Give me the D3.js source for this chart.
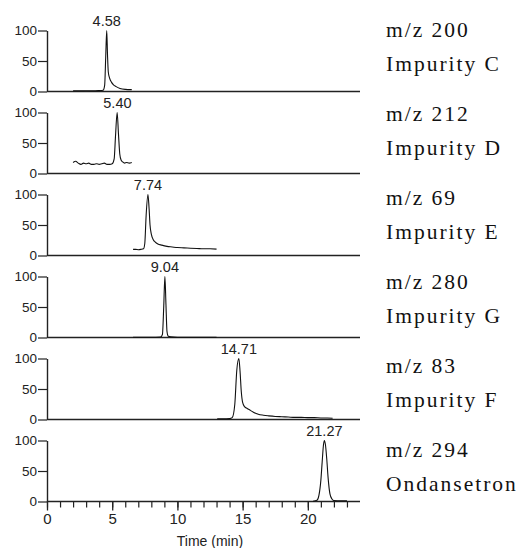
<!DOCTYPE html>
<html>
<head>
<meta charset="utf-8">
<script src="https://cdn.jsdelivr.net/npm/d3@7"></script>
<style>
  html, body { margin: 0; padding: 0; background: #fff; }
  svg { display: block; }
</style>
</head>
<body>
<svg id="chart" width="525" height="548"></svg>
<script>
// ---- data ----
const massLabels = ["m/z 200", "m/z 212", "m/z 69", "m/z 280", "m/z 83", "m/z 294"];
const compoundLabels = ["Impurity C", "Impurity D", "Impurity E", "Impurity G", "Impurity F", "Ondansetron"];
const peakTimes = [4.58, 5.40, 7.74, 9.04, 14.71, 21.27];
const peakLabels = ["4.58", "5.40", "7.74", "9.04", "14.71", "21.27"];
const yTickValues = [0, 50, 100];
const xMajorTicks = [0, 5, 10, 15, 20];
const xMinorTicks = [0,1,2,3,4,5,6,7,8,9,10,11,12,13,14,15,16,17,18,19,20,21,22,23];
const xAxisTitle = "Time (min)";

// chromatogram traces: [time (min), relative intensity (%)]
const traceC = [[2.0,1],[2.5,1],[3.0,1.2],[3.5,1],[4.0,1.5],[4.3,2],[4.42,10],[4.5,55],[4.58,100],[4.64,60],[4.7,32],[4.8,22],[4.95,15],[5.1,11],[5.3,8],[5.6,5],[6.0,3.5],[6.5,3]];
const traceD = [[2.0,18],[2.2,20],[2.4,17],[2.6,15],[2.8,17],[3.0,16],[3.2,17],[3.4,15],[3.6,15],[3.8,16],[4.0,15],[4.2,16],[4.4,17],[4.6,15],[4.8,15],[5.0,16],[5.15,24],[5.25,60],[5.38,100],[5.48,65],[5.58,32],[5.68,22],[5.8,19],[5.95,17],[6.1,18],[6.3,17],[6.5,18]];
const traceE = [[6.6,10],[6.8,10],[7.0,9.5],[7.2,10],[7.4,11],[7.5,20],[7.6,65],[7.74,100],[7.82,80],[7.9,50],[8.0,35],[8.15,26],[8.3,22],[8.5,19],[8.8,17],[9.2,15],[9.6,14],[10,13],[10.5,12.5],[11,12],[11.5,11.5],[12,11],[12.5,11],[13,10.5]];
const traceG = [[6.6,0.5],[7,0.5],[8,0.5],[8.7,0.8],[8.85,5],[8.95,50],[9.04,100],[9.12,55],[9.2,10],[9.3,2],[9.5,1],[10,0.5],[11,0.5],[12,0.5],[13,0.3]];
const traceF = [[13.05,1],[13.5,1],[14.0,1.5],[14.2,3],[14.4,25],[14.55,80],[14.71,100],[14.8,80],[14.9,45],[15.0,28],[15.15,21],[15.35,18],[15.6,15],[15.9,11],[16.2,8.5],[16.6,7],[17,6],[17.5,5],[18,4.5],[18.5,4],[19,3.5],[19.5,3.5],[20,3],[20.5,3],[21,2.5],[21.5,2.5],[21.9,2]];
const traceOnd = [[20.4,0.5],[20.7,2],[20.85,10],[21.0,35],[21.1,65],[21.2,93],[21.27,100],[21.35,93],[21.45,70],[21.55,40],[21.7,12],[21.85,4],[22.0,1.5],[22.5,1],[23.0,1]];
const traces = [traceC, traceD, traceE, traceG, traceF, traceOnd];

// ---- layout ----
const SANS = "Liberation Sans";
const SERIF = "Liberation Serif";
const svg = d3.select("#chart");
const left = 47, right = 360;
const panelTop0 = 30.5, panelStep = 82, panelH = 61;

const x = d3.scaleLinear().domain([0, 24]).range([left, right]);

traces.forEach((tr, i) => {
  const top = panelTop0 + panelStep * i;
  const y = d3.scaleLinear().domain([0, 100]).range([top + panelH, top]);
  const g = svg.append("g");

  // y axis
  const ya = g.append("g")
    .attr("transform", `translate(${left},0)`)
    .call(d3.axisLeft(y).tickValues(yTickValues).tickSize(9).tickSizeOuter(0).tickPadding(1));
  ya.select(".domain").attr("stroke", "#222").attr("stroke-width", 1.4);
  ya.selectAll(".tick line").attr("stroke", "#222").attr("stroke-width", 1.2);
  ya.selectAll(".tick text")
    .style("font-family", SANS).style("font-size", "13.5px").attr("fill", "#222");

  // baseline
  g.append("line")
    .attr("x1", x(0)).attr("x2", x(24))
    .attr("y1", y(0)).attr("y2", y(0))
    .attr("stroke", "#222").attr("stroke-width", 1.4);

  // trace
  const line = d3.line().x(d => x(d[0])).y(d => y(d[1])).curve(d3.curveMonotoneX);
  g.append("path").datum(tr)
    .attr("d", line)
    .attr("fill", "none").attr("stroke", "#111").attr("stroke-width", 1.1);

  // peak label
  g.append("text")
    .attr("x", x(peakTimes[i])).attr("y", top - 5)
    .attr("text-anchor", "middle")
    .style("font-family", SANS).style("font-size", "14.5px").attr("fill", "#222")
    .text(peakLabels[i]);

  // right labels
  const lblTop = 37 + 84 * i;
  g.append("text")
    .attr("x", 386).attr("y", lblTop)
    .style("font-family", SERIF).style("font-size", "21.5px").style("letter-spacing", "2px")
    .attr("fill", "#111")
    .text(massLabels[i]);
  g.append("text")
    .attr("x", 386).attr("y", lblTop + 34)
    .style("font-family", SERIF).style("font-size", "21.5px").style("letter-spacing", "2px")
    .attr("fill", "#111")
    .text(compoundLabels[i]);

  if (i === traces.length - 1) {
    const base = y(0);
    const minor = g.append("g").attr("transform", `translate(0,${base})`)
      .call(d3.axisBottom(x).tickValues(xMinorTicks).tickSize(6).tickFormat(""));
    minor.select(".domain").remove();
    minor.selectAll(".tick line").attr("stroke", "#222").attr("stroke-width", 1.2);
    const major = g.append("g").attr("transform", `translate(0,${base})`)
      .call(d3.axisBottom(x).tickValues(xMajorTicks).tickSize(9).tickPadding(3).tickFormat(d3.format("d")));
    major.select(".domain").remove();
    major.selectAll(".tick line").attr("stroke", "#222").attr("stroke-width", 1.3);
    major.selectAll(".tick text")
      .style("font-family", SANS).style("font-size", "15px").attr("fill", "#222");
    g.append("text")
      .attr("x", 210).attr("y", 546)
      .attr("text-anchor", "middle")
      .style("font-family", SANS).style("font-size", "14px").attr("fill", "#222")
      .text(xAxisTitle);
  }
});
</script>
</body>
</html>
